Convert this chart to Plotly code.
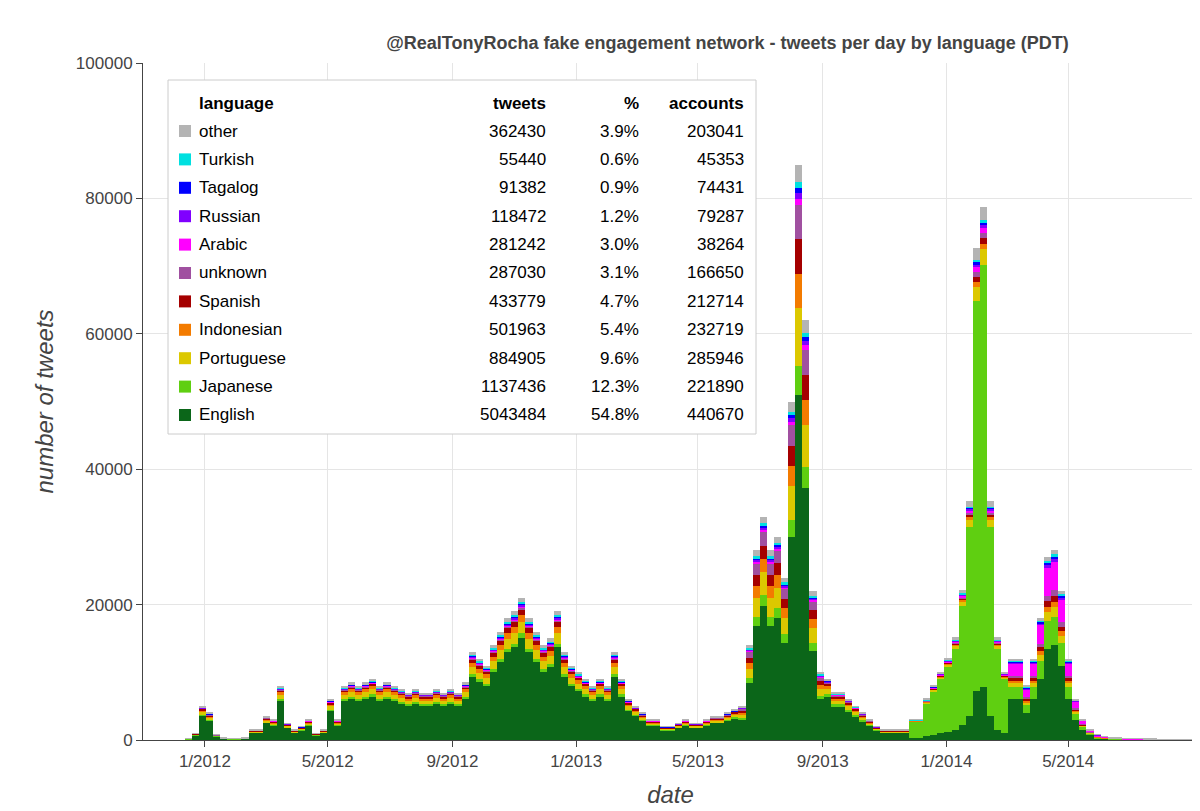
import pandas as pd
import plotly.graph_objects as go

languages = ["English", "Japanese", "Portuguese", "Indonesian", "Spanish", "unknown",
             "Arabic", "Russian", "Tagalog", "Turkish", "other"]
colors = ["#0b6619", "#5fcf11", "#dcc800", "#f37b00", "#a50000", "#a050a0",
          "#ff00ff", "#8000ff", "#0000ff", "#00e0e0", "#b4b4b4"]
leg_tweets = ["5043484", "1137436", "884905", "501963", "433779", "287030",
              "281242", "118472", "91382", "55440", "362430"]
leg_pct = ["54.8%", "12.3%", "9.6%", "5.4%", "4.7%", "3.1%", "3.0%", "1.2%", "0.9%", "0.6%", "3.9%"]
leg_accounts = ["440670", "221890", "285946", "232719", "212714", "166650",
                "38264", "79287", "74431", "45353", "203041"]

# weekly estimates of tweets per day, weeks starting 2011-11-28
totals = [0,
          0, 200, 1000, 5000,
          4000, 800, 300, 200, 200,
          300, 1500, 1500, 3500,
          3000, 8000, 2500, 1500,
          2000, 3000, 1000, 1500, 6000,
          3000, 8000, 8500, 8000,
          8500, 9000, 8000, 8500,
          8000, 7500, 7000, 7500, 7000,
          7000, 7500, 7000, 7500,
          7000, 8500, 13000, 12000,
          11000, 14000, 16000, 18000, 19000,
          21000, 18000, 16000, 14000,
          15000, 19000, 13000, 11000, 10000,
          9000, 8000, 9000, 8000,
          13000, 9000, 6000, 5000,
          4000, 3000, 3000, 2000,
          2000, 2500, 3000, 2500, 2500,
          3000, 3500, 3500, 4000,
          4500, 5000, 14000, 28000,
          33000, 28000, 30000, 24000, 50000,
          85000, 62000, 22000, 10000,
          9000, 7000, 7000, 6000, 5000,
          4000, 3000, 2000, 1500,
          1500, 1500, 1500, 3000,
          3000, 6000, 8000, 10000, 12000,
          15000, 22000, 35000, 72000,
          78000, 35000, 15000, 10000,
          12000, 12000, 8000, 12000, 18000,
          27000, 28000, 22000, 12000,
          6000, 3000, 1500, 800,
          500, 300, 300, 200, 200,
          200, 150, 150, 100,
          100, 100, 100, 100]

# language share profiles for eras
era_start = ["2011-11-01", "2013-06-10", "2013-09-01", "2013-11-25", "2014-03-01", "2014-05-20"]
era_shares = [
    [0.72, 0.03, 0.08, 0.05, 0.04, 0.01, 0.01, 0.01, 0.01, 0.01, 0.03],
    [0.60, 0.05, 0.10, 0.06, 0.06, 0.06, 0.01, 0.01, 0.01, 0.01, 0.03],
    [0.70, 0.05, 0.08, 0.05, 0.04, 0.02, 0.01, 0.01, 0.01, 0.01, 0.02],
    [0.10, 0.80, 0.03, 0.01, 0.01, 0.01, 0.01, 0.005, 0.005, 0.005, 0.025],
    [0.50, 0.15, 0.05, 0.03, 0.03, 0.03, 0.15, 0.02, 0.01, 0.01, 0.02],
    [0.30, 0.20, 0.05, 0.05, 0.05, 0.05, 0.20, 0.03, 0.02, 0.02, 0.03],
]

dates = pd.date_range("2011-11-28", periods=len(totals), freq="7D")
starts = pd.to_datetime(era_start)

def era_of(d):
    idx = 0
    for i, s in enumerate(starts):
        if d >= s:
            idx = i
    return idx

eras = [era_of(d) for d in dates]
xs = dates + pd.Timedelta(days=3.5)

fig = go.Figure()
for li, (lang, col) in enumerate(zip(languages, colors)):
    ys = [t * era_shares[e][li] for t, e in zip(totals, eras)]
    fig.add_trace(go.Bar(x=xs, y=ys, name=lang, marker=dict(color=col, line=dict(width=0)),
                         width=7 * 86400000, showlegend=False))

fig.update_layout(
    barmode="stack", bargap=0,
    width=1200, height=811,
    margin=dict(l=135, r=10, t=55, b=79, autoexpand=False),
    plot_bgcolor="white", paper_bgcolor="white",
    font=dict(family="Liberation Sans, Arial, sans-serif", color="#444"),
    title=dict(text="<b>@RealTonyRocha fake engagement network - tweets per day by language (PDT)</b>",
               x=0.554, xref="paper", xanchor="center", y=0.965, font=dict(size=18, color="#444")),
    xaxis=dict(range=["2011-11-01", "2014-09-06"], tickvals=["2012-01-01", "2012-05-01", "2012-09-01",
               "2013-01-01", "2013-05-01", "2013-09-01", "2014-01-01", "2014-05-01", "2014-09-01"],
               ticktext=["1/2012", "5/2012", "9/2012", "1/2013", "5/2013", "9/2013", "1/2014", "5/2014", "9/2014"],
               showgrid=True, gridcolor="#e5e5e5", ticks="outside", ticklen=6, tickcolor="#444",
               showline=True, linecolor="#444", tickfont=dict(size=17),
               title=dict(text="<i>date</i>", font=dict(size=24))),
    yaxis=dict(range=[0, 100000], dtick=20000, tickformat="d", showgrid=True, gridcolor="#e5e5e5",
               ticks="outside", ticklen=6, tickcolor="#444", showline=True, linecolor="#444",
               tickfont=dict(size=17), zeroline=False,
               title=dict(text="<i>number of tweets</i>", font=dict(size=24))),
)

# legend table
W, H, L, T = 1055, 677, 135, 55
px = lambda x: (x - L) / W
py = lambda y: 1 - (y - T) / H
fig.add_shape(type="rect", xref="paper", yref="paper", x0=px(160), x1=px(748), y0=py(426), y1=py(72),
              line=dict(color="#ccc", width=1), fillcolor="white", layer="above")
hdr = [("language", 189, "left"), ("tweets", 540, "right"), ("%", 633, "right"), ("accounts", 738, "right")]
for txt, x, anc in hdr:
    fig.add_annotation(xref="paper", yref="paper", x=px(x), y=py(95), text=f"<b>{txt}</b>",
                       xanchor=anc, yanchor="middle", showarrow=False, font=dict(size=17, color="black"))
order = list(range(len(languages)))[::-1]
for r, li in enumerate(order):
    yy = 123 + r * 28.4
    fig.add_shape(type="rect", xref="paper", yref="paper", x0=px(171), x1=px(183),
                  y0=py(yy + 6), y1=py(yy - 6), fillcolor=colors[li], line=dict(width=0), layer="above")
    for txt, x, anc in [(languages[li], 189, "left"), (leg_tweets[li], 540, "right"),
                        (leg_pct[li], 633, "right"), (leg_accounts[li], 738, "right")]:
        fig.add_annotation(xref="paper", yref="paper", x=px(x), y=py(yy), text=txt,
                           xanchor=anc, yanchor="middle", showarrow=False, font=dict(size=17, color="black"))

fig.write_html("out.html")
